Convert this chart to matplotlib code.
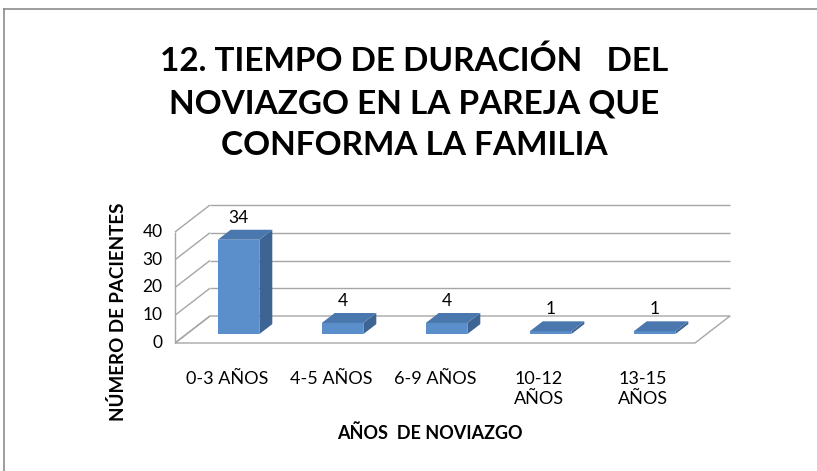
import matplotlib
matplotlib.use("Agg")
import matplotlib.pyplot as plt
from matplotlib.patches import Polygon
from matplotlib.lines import Line2D

categories = ["0-3 AÑOS", "4-5 AÑOS", "6-9 AÑOS", "10-12\nAÑOS", "13-15\nAÑOS"]
values = [34, 4, 4, 1, 1]
yticks = [0, 10, 20, 30, 40]
title = "12. TIEMPO DE DURACIÓN   DEL\nNOVIAZGO EN LA PAREJA QUE\nCONFORMA LA FAMILIA"
xlabel = "AÑOS  DE NOVIAZGO"
ylabel = "NÚMERO DE PACIENTES"

plt.rcParams['font.family'] = ['Lato', 'DejaVu Sans']

W, H = 817, 471
fig = plt.figure(figsize=(W / 100, H / 100), dpi=100)
fig.patch.set_facecolor('white')

# front floor: x 175..695 px, y 343 px from top; front height 111 px for 40
ax = fig.add_axes([175 / W, (H - 343) / H, 520 / W, 111 / H])
n = len(categories)
ax.set_xlim(0, n)
ax.set_ylim(0, 40)
ax.axis('off')

# oblique depth offset (category units, value units)
DX = 35 / 104
DY = 27 / (111 / 40)
grid_c = '#a6a6a6'
lw = 1.0

def ln(xs, ys, **kw):
    ax.add_line(Line2D(xs, ys, color=grid_c, lw=lw, clip_on=False, solid_capstyle='butt', **kw))

# floor
ln([0, n, n + DX, DX, 0], [0, 0, DY, DY, 0])
# left wall and back wall gridlines
ln([0, 0], [0, 40])
for v in yticks:
    ln([0, DX], [v, v + DY])
    if v > 0:
        ln([DX, n + DX], [v + DY, v + DY])

# y tick labels at front edge
for v in yticks:
    ax.text(-0.12, v, str(v), ha='right', va='center', fontsize=12.5, color='#000000', clip_on=False)

# bars
f0, f1 = 0.33, 0.70
bw = 0.40
front_c = '#5a8fcb'
side_c = '#3d6493'
top_c = '#4a78ae'
for i, v in enumerate(values):
    x0 = i + 0.5 - bw / 2 + f0 * DX
    x1 = x0 + bw
    yb = f0 * DY
    yt = yb + v
    ddx = (f1 - f0) * DX
    ddy = (f1 - f0) * DY
    ax.add_patch(Polygon([(x0, yb), (x1, yb), (x1, yt), (x0, yt)], closed=True,
                         facecolor=front_c, edgecolor='none', clip_on=False, zorder=3))
    ax.add_patch(Polygon([(x1, yb), (x1 + ddx, yb + ddy), (x1 + ddx, yt + ddy), (x1, yt)], closed=True,
                         facecolor=side_c, edgecolor='none', clip_on=False, zorder=3))
    ax.add_patch(Polygon([(x0, yt), (x1, yt), (x1 + ddx, yt + ddy), (x0 + ddx, yt + ddy)], closed=True,
                         facecolor=top_c, edgecolor='none', clip_on=False, zorder=3))
    ax.annotate(str(v), xy=((x0 + x1) / 2, yt + ddy), xytext=(0, 3), textcoords='offset points',
                ha='center', va='bottom', fontsize=12.5, color='#000000', annotation_clip=False)

# category labels
for i, c in enumerate(categories):
    ax.annotate(c, xy=(i + 0.5, 0), xytext=(0, -20), textcoords='offset points',
                ha='center', va='top', fontsize=13, color='#000000', linespacing=1.3,
                annotation_clip=False)

fig.text(430 / W, 1 - 433 / H, xlabel, ha='center', va='center', fontsize=13, fontweight='bold')
fig.text(118 / W, 1 - 312 / H, ylabel, ha='center', va='center', fontsize=13.5, fontweight='bold',
         rotation=90)
fig.text(414 / W, 1 - 103 / H, title, ha='center', va='center', fontsize=24, fontweight='bold',
         linespacing=1.55)

# outer frame (left and top)
fig.add_artist(Line2D([4 / W, 4 / W], [0, 1 - 9 / H], color='#8c8c8c', lw=1.2, transform=fig.transFigure))
fig.add_artist(Line2D([4 / W, 1], [1 - 9 / H, 1 - 9 / H], color='#8c8c8c', lw=1.2, transform=fig.transFigure))

fig.savefig('out.png', dpi=100, facecolor='white')
